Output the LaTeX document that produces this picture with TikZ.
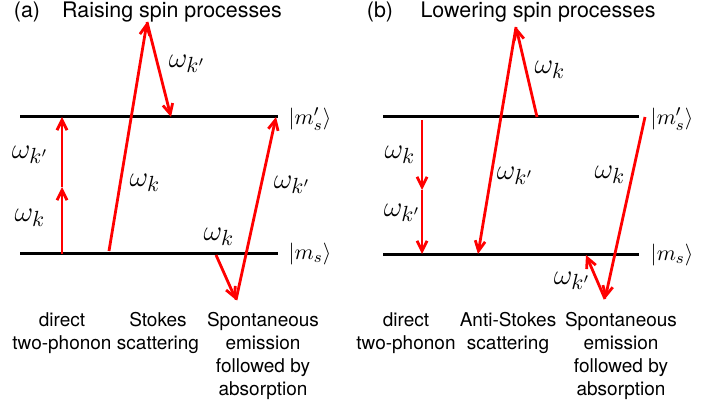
\documentclass[tikz,border=0pt]{standalone}
\usepackage{amsmath}
\usepackage{fontspec}
\setmainfont{TeX Gyre Heros}
\usepackage{xcolor}
\usetikzlibrary{arrows.meta}
\definecolor{PhononRed}{RGB}{255,0,0}

\begin{document}
\begin{tikzpicture}[x=0.5pt, y=0.5pt,
		level/.style={line width=1.5pt, black},
		phonon/.style={line width=1.4pt, PhononRed, -{Straight Barb[length=5pt, width=5pt]}},
		freq/.style={font=\fontsize{15}{15}\selectfont, inner sep=0pt},
		ket/.style={font=\fontsize{11}{11}\selectfont, inner sep=0pt},
		heading/.style={font=\fontsize{10.7}{12}\selectfont, inner sep=0pt},
		caption/.style={font=\fontsize{9.5}{11.5}\selectfont, align=center, anchor=north, inner sep=0pt}]
		\useasboundingbox (0,0) rectangle (726,412);
		
		% (a) levels
		\coordinate (aU1) at (20,295);
		\coordinate (aU2) at (278,295);
		\coordinate (aL1) at (20,158);
		\coordinate (aL2) at (278,158);
		\draw[level] (aU1) -- (aU2);
		\draw[level] (aL1) -- (aL2);
		\node[ket] (aUket) at (310,293) {$|m_s'\rangle$};
		\node[ket] (aLket) at (310,158) {$|m_s\rangle$};
		
		% (a) direct
		\coordinate (aD0) at (62,158);
		\coordinate (aD1) at (62,225);
		\coordinate (aD2) at (62,295);
		\draw[phonon] (aD0) -- (aD1);
		\draw[phonon] (aD1) -- (aD2);
		\node[freq] (aDw2) at (30,257) {$\omega_{k'}$};
		\node[freq] (aDw1) at (30,194) {$\omega_k$};
		
		% (a) Stokes
		\coordinate (aS0) at (109,161);
		\coordinate (aS1) at (147,390);
		\coordinate (aS2) at (171,295);
		\draw[phonon] (aS0) -- (aS1);
		\draw[phonon] (aS1) -- (aS2);
		\node[freq] (aSw1) at (145,229) {$\omega_k$};
		\node[freq] (aSw2) at (187,348) {$\omega_{k'}$};
		
		% (a) emission + absorption
		\coordinate (aE0) at (216,157);
		\coordinate (aE1) at (236,112);
		\coordinate (aE2) at (276,295);
		\draw[phonon] (aE0) -- (aE1);
		\draw[phonon] (aE1) -- (aE2);
		\node[freq] (aEw1) at (219,175) {$\omega_k$};
		\node[freq] (aEw2) at (292,227) {$\omega_{k'}$};
		
		\node[heading] (aTag) at (27,400) {(a)};
		\node[heading] (aTitle) at (172,400) {Raising spin processes};
		\node[caption] (aCap1) at (62,100) {direct\\two-phonon};
		\node[caption] (aCap2) at (158,100) {Stokes\\scattering};
		\node[caption] (aCap3) at (263,100) {Spontaneous\\emission\\followed by\\absorption};
		
		% (b) levels
		\coordinate (bU1) at (383,295);
		\coordinate (bU2) at (639,295);
		\coordinate (bL1) at (383,157);
		\coordinate (bL2) at (639,157);
		\draw[level] (bU1) -- (bU2);
		\draw[level] (bL1) -- (bL2);
		\node[ket] (bUket) at (672,293) {$|m_s'\rangle$};
		\node[ket] (bLket) at (672,157) {$|m_s\rangle$};
		
		% (b) direct
		\coordinate (bD0) at (422,292);
		\coordinate (bD1) at (422,222);
		\coordinate (bD2) at (422,158);
		\draw[phonon] (bD0) -- (bD1);
		\draw[phonon] (bD1) -- (bD2);
		\node[freq] (bDw1) at (400,257) {$\omega_k$};
		\node[freq] (bDw2) at (402,199) {$\omega_{k'}$};
		
		% (b) anti-Stokes
		\coordinate (bA0) at (537,295);
		\coordinate (bA1) at (516,385);
		\coordinate (bA2) at (478,158);
		\draw[phonon] (bA0) -- (bA1);
		\draw[phonon] (bA1) -- (bA2);
		\node[freq] (bAw1) at (550,342) {$\omega_k$};
		\node[freq] (bAw2) at (515,236) {$\omega_{k'}$};
		
		% (b) emission + absorption
		\coordinate (bE0) at (645,295);
		\coordinate (bE1) at (605,113);
		\coordinate (bE2) at (586,157);
		\draw[phonon] (bE0) -- (bE1);
		\draw[phonon] (bE1) -- (bE2);
		\node[freq] (bEw1) at (610,237) {$\omega_k$};
		\node[freq] (bEw2) at (572,131) {$\omega_{k'}$};
		
		\node[heading] (bTag) at (380,400) {(b)};
		\node[heading] (bTitle) at (538,400) {Lowering spin processes};
		\node[caption] (bCap1) at (406,100) {direct\\two-phonon};
		\node[caption] (bCap2) at (508,100) {Anti-Stokes\\scattering};
		\node[caption] (bCap3) at (621,100) {Spontaneous\\emission\\followed by\\absorption};
		
	\end{tikzpicture}
\end{document}
